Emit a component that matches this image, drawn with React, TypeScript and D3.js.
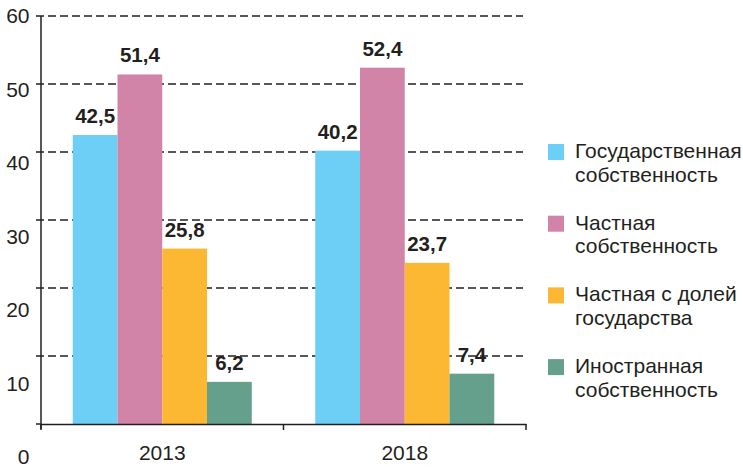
import React, { useEffect, useRef } from 'react';
import * as d3 from 'd3';

// data
const years = ['2013', '2018'];
const seriesNames = [
    'Государственная собственность',
    'Частная собственность',
    'Частная с долей государства',
    'Иностранная собственность'
];
const seriesColors = ['#6dcff6', '#d183a8', '#fdb833', '#65a08c'];
const values2013 = [42.5, 51.4, 25.8, 6.2];
const values2018 = [40.2, 52.4, 23.7, 7.4];
const yTicks = [0, 10, 20, 30, 40, 50, 60];
// legend text split into lines
const legendLines = [
    ['Государственная', 'собственность'],
    ['Частная', 'собственность'],
    ['Частная с долей', 'государства'],
    ['Иностранная', 'собственность']
];

const FONT = '"Liberation Sans", Arial, Helvetica, sans-serif';
const TEXT = '#231f20';

export default function App() {
    const ref = useRef<SVGSVGElement>(null);

    useEffect(() => {
        const svg = d3.select(ref.current);
        svg.selectAll('*').remove();

        const margin = { left: 41, top: 16, bottom: 424, right: 526 };
        const values = [values2013, values2018];

        const y = d3.scaleLinear().domain([0, 60]).range([margin.bottom, margin.top]);
        // tick labels in the original sit on their own spacing
        const yLabel = d3.scaleLinear().domain([0, 60]).range([457, 16]);

        const x0 = d3.scaleBand().domain(years).range([margin.left, margin.right]);
        const x1 = d3.scaleBand()
            .domain(seriesNames)
            .range([0, 179]);

        // gridlines
        svg.append('g')
            .selectAll('line')
            .data(yTicks.filter(d => d > 0))
            .enter()
            .append('line')
            .attr('x1', margin.left - 5)
            .attr('x2', 523)
            .attr('y1', d => y(d))
            .attr('y2', d => y(d))
            .attr('stroke', TEXT)
            .attr('stroke-width', 1.3)
            .attr('stroke-dasharray', '8,4');

        // bars
        const groups = svg.append('g')
            .selectAll('g')
            .data(years)
            .enter()
            .append('g')
            .attr('transform', d => `translate(${x0(d)! + (x0.bandwidth() - 179) / 2},0)`);

        groups.selectAll('rect')
            .data((d, i) => values[i].map((v, j) => ({ v, name: seriesNames[j], c: seriesColors[j] })))
            .enter()
            .append('rect')
            .attr('x', d => x1(d.name)!)
            .attr('width', x1.bandwidth())
            .attr('y', d => y(d.v))
            .attr('height', d => y(0) - y(d.v))
            .attr('fill', d => d.c);

        groups.selectAll('text')
            .data((d, i) => values[i].map((v, j) => ({ v, name: seriesNames[j] })))
            .enter()
            .append('text')
            .attr('x', d => x1(d.name)! + x1.bandwidth() / 2)
            .attr('y', d => y(d.v) - 12)
            .attr('text-anchor', 'middle')
            .attr('font-family', FONT)
            .attr('font-weight', 'bold')
            .attr('font-size', 20.5)
            .attr('fill', TEXT)
            .text(d => d.v.toFixed(1).replace('.', ','));

        // y axis
        svg.append('line')
            .attr('x1', margin.left).attr('x2', margin.left)
            .attr('y1', y(60)).attr('y2', y(0) + 5)
            .attr('stroke', TEXT).attr('stroke-width', 1.5);
        svg.append('line')
            .attr('x1', margin.left - 5).attr('x2', margin.left)
            .attr('y1', y(0)).attr('y2', y(0))
            .attr('stroke', TEXT).attr('stroke-width', 1.5);

        svg.append('g')
            .selectAll('text')
            .data(yTicks)
            .enter()
            .append('text')
            .attr('x', 29.5)
            .attr('y', d => yLabel(d))
            .attr('dy', '0.35em')
            .attr('text-anchor', 'end')
            .attr('font-family', FONT)
            .attr('font-size', 21)
            .attr('fill', TEXT)
            .text(d => d);

        // x axis
        const xAxis = d3.axisBottom(x0).tickSize(0).tickFormat(() => '');
        svg.append('g')
            .attr('transform', `translate(0,${y(0)})`)
            .call(xAxis)
            .call(g => g.select('.domain').attr('stroke', TEXT).attr('stroke-width', 1.5));

        const bounds = [margin.left, ...years.slice(1).map(d => x0(d)!), margin.right];
        svg.append('g')
            .selectAll('line')
            .data(bounds)
            .enter()
            .append('line')
            .attr('x1', d => d).attr('x2', d => d)
            .attr('y1', y(0)).attr('y2', y(0) + 6)
            .attr('stroke', TEXT).attr('stroke-width', 1.5);

        svg.append('g')
            .selectAll('text')
            .data(years)
            .enter()
            .append('text')
            .attr('x', d => x0(d)! + x0.bandwidth() / 2)
            .attr('y', 460)
            .attr('text-anchor', 'middle')
            .attr('font-family', FONT)
            .attr('font-size', 21)
            .attr('fill', TEXT)
            .text(d => d);

        // legend
        const legend = svg.append('g')
            .selectAll('g')
            .data(seriesNames)
            .enter()
            .append('g')
            .attr('transform', (d, i) => `translate(548,${144 + i * 71.7})`);

        legend.append('rect')
            .attr('width', 16)
            .attr('height', 16)
            .attr('fill', (d, i) => seriesColors[i]);

        legend.each(function (d, i) {
            const t = d3.select(this).append('text')
                .attr('font-family', FONT)
                .attr('font-size', 21)
                .attr('fill', TEXT);
            legendLines[i].forEach((line, k) => {
                t.append('tspan')
                    .attr('x', 27)
                    .attr('y', 14 + k * 23.5)
                    .text(line);
            });
        });
    }, []);

    return (
        <svg ref={ref} width={743} height={467}
            style={{ position: 'absolute', left: 0, top: 0, background: '#fff' }} />
    );
}
